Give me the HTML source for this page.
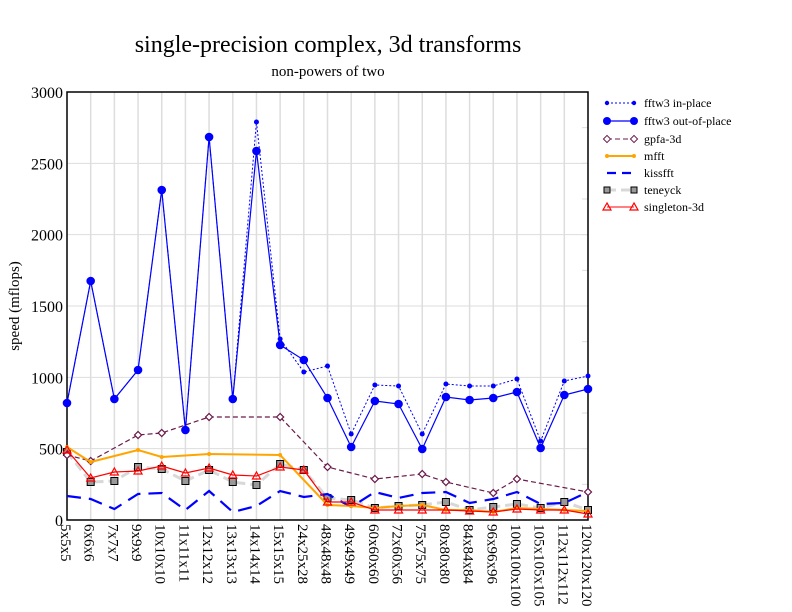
<!DOCTYPE html>
<html><head><meta charset="utf-8"><style>
body{margin:0;background:#fff}
svg{display:block;font-family:"Liberation Serif",serif}
</style></head><body>
<svg id="s" width="792" height="612" xmlns="http://www.w3.org/2000/svg">
<rect width="792" height="612" fill="#fff"/>
<text x="328" y="52" font-size="24" text-anchor="middle">single-precision complex, 3d transforms</text>
<text x="328" y="76" font-size="15" text-anchor="middle">non-powers of two</text>
<text transform="translate(19,306) rotate(-90)" font-size="15" text-anchor="middle">speed (mflops)</text>
<g id="g"></g>
</svg>
<script>
const NS="http://www.w3.org/2000/svg",g=document.getElementById('g');
function el(t,a,txt){const e=document.createElementNS(NS,t);for(const k in a)e.setAttribute(k,a[k]);if(txt!==undefined)e.textContent=txt;g.appendChild(e);return e;}
const L=67,R=588,T=92,B=520,N=23,dx=(R-L)/22;
const cats=["5x5x5","6x6x6","7x7x7","9x9x9","10x10x10","11x11x11","12x12x12","13x13x13","14x14x14","15x15x15","24x25x28","48x48x48","49x49x49","60x60x60","72x60x56","75x75x75","80x80x80","84x84x84","96x96x96","100x100x100","105x105x105","112x112x112","120x120x120"];
const X=i=>L+i*dx;
// grid
for(let k=0;k<=12;k++){const y=B-k*(B-T)/12;if(k%2==0&&k>0&&k<12)el('line',{x1:L,x2:R,y1:y,y2:y,stroke:'#ddd','stroke-width':1});
 el('line',{x1:R-6,x2:R,y1:y,y2:y,stroke:'#ddd'});}
for(let i=1;i<N-1;i++)el('line',{x1:X(i),x2:X(i),y1:T,y2:B,stroke:'#ddd','stroke-width':1.5});
el('rect',{x:L,y:T,width:R-L,height:B-T,fill:'none',stroke:'#000','stroke-width':1.5});
for(let k=0;k<=6;k++){const y=B-k*(B-T)/6;el('text',{x:L-4,y:y+6,'font-size':16,'text-anchor':'end'},String(k*500));}
cats.forEach((c,i)=>el('text',{transform:`translate(${X(i)-6},524) rotate(90)`,'font-size':15},c));
function P(arr){return arr.map((y,i)=>y==null?null:[X(i),y]).filter(p=>p);}
function line(pts,a){el('polyline',Object.assign({points:pts.map(p=>p.join(',')).join(' '),fill:'none'},a));}
const ten=[452,482,481,467,469,481,470,482,485,464,470,498,500,508,506,505,502,510,507,504,508,502,510];
line(P(ten),{stroke:'#d8d8d8','stroke-width':3,'stroke-dasharray':'9,5'});
P(ten).forEach(p=>el('rect',{x:p[0]-3.5,y:p[1]-3.5,width:7,height:7,fill:'#999',stroke:'#000','stroke-width':1}));
const kiss=[496,499,509,494,493,510,491,512,506,491,497,494,507,492,498,493,492,503,499,492,504,503,492];
line(P(kiss),{stroke:'#0000ff','stroke-width':2.2,'stroke-dasharray':'14,8'});
const gp=[455,461,null,435,433,null,417,null,null,417,null,467,null,479,null,474,482,null,493,479,null,null,492];
line(P(gp),{stroke:'#6a1a4a','stroke-width':1.2,'stroke-dasharray':'5,3'});
P(gp).forEach(p=>el('rect',{x:p[0]-2.5,y:p[1]-2.5,width:5,height:5,fill:'#fff',stroke:'#6a1a4a','stroke-width':1.2,transform:`rotate(45 ${p[0]} ${p[1]})`}));
const mf=[447,462,null,450,457,null,454,null,null,455,null,505,506,508,506,505,510,510,512,508,509,510,511];
line(P(mf),{stroke:'#ffa500','stroke-width':2});
P(mf).forEach(p=>el('circle',{cx:p[0],cy:p[1],r:2,fill:'#ffa500'}));
const sg=[450,478,472,471,466,473,468,475,476,467,470,502,502,510,510,510,510,511,512,509,510,510,514];
line(P(sg),{stroke:'#ff0000','stroke-width':1.2});
P(sg).forEach(p=>el('polygon',{points:`${p[0]},${p[1]-4} ${p[0]-4},${p[1]+3} ${p[0]+4},${p[1]+3}`,fill:'none',stroke:'#ff0000','stroke-width':1.2}));
const op=[403,281,399,370,190,430,137,399,151,345,360,398,447,401,404,449,397,400,398,392,448,395,389];
const ip=[403,281,399,370,190,430,137,399,122,339,372,366,434,385,386,434,384,386,386,379,441,381,376];
line(P(ip),{stroke:'#0000ff','stroke-width':1,'stroke-dasharray':'2,2'});
P(ip).forEach(p=>el('circle',{cx:p[0],cy:p[1],r:2.5,fill:'#0000ff'}));
line(P(op),{stroke:'#0000ff','stroke-width':1.2});
P(op).forEach(p=>el('circle',{cx:p[0],cy:p[1],r:4.3,fill:'#0000ff'}));
// legend
const lx=607,lt=[["fftw3 in-place",103],["fftw3 out-of-place",121],["gpfa-3d",139],["mfft",156],["kissfft",173],["teneyck",190],["singleton-3d",207]];
lt.forEach(([t,y])=>el('text',{x:644,y:y+4,'font-size':12},t));
let y=103;line([[lx,y],[lx+27,y]],{stroke:'#0000ff','stroke-dasharray':'2,2'});[lx,lx+27].forEach(x=>el('circle',{cx:x,cy:y,r:2.2,fill:'#0000ff'}));
y=121;line([[lx,y],[lx+27,y]],{stroke:'#0000ff','stroke-width':1.2});[lx,lx+27].forEach(x=>el('circle',{cx:x,cy:y,r:4,fill:'#0000ff'}));
y=139;line([[lx,y],[lx+27,y]],{stroke:'#6a1a4a','stroke-dasharray':'5,3'});[lx,lx+27].forEach(x=>el('rect',{x:x-2.5,y:y-2.5,width:5,height:5,fill:'#fff',stroke:'#6a1a4a',transform:`rotate(45 ${x} ${y})`}));
y=156;line([[lx,y],[lx+27,y]],{stroke:'#ffa500','stroke-width':2});[lx,lx+27].forEach(x=>el('circle',{cx:x,cy:y,r:2,fill:'#ffa500'}));
y=173;line([[lx,y],[lx+27,y]],{stroke:'#0000ff','stroke-width':2.2,'stroke-dasharray':'9,6'});
y=190;line([[lx,y],[lx+27,y]],{stroke:'#d8d8d8','stroke-width':3,'stroke-dasharray':'9,5'});[lx,lx+27].forEach(x=>el('rect',{x:x-3,y:y-3,width:6,height:6,fill:'#999',stroke:'#000'}));
y=207;line([[lx,y],[lx+27,y]],{stroke:'#ff0000'});[lx,lx+27].forEach(x=>el('polygon',{points:`${x},${y-4} ${x-4},${y+3} ${x+4},${y+3}`,fill:'none',stroke:'#ff0000','stroke-width':1.2}));
</script>
</body></html>
